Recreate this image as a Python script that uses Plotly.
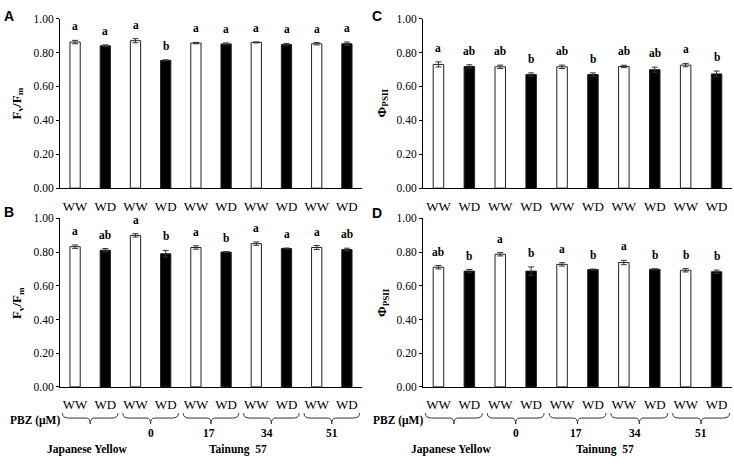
import plotly.graph_objects as go

# ---------------- data ----------------
treatments = ["WW", "WD", "WW", "WD", "WW", "WD", "WW", "WD", "WW", "WD"]
positions = list(range(10))

fvfm_A = [0.862, 0.840, 0.870, 0.754, 0.856, 0.851, 0.860, 0.847, 0.852, 0.852]
fvfm_A_err = [0.010, 0.005, 0.012, 0.003, 0.004, 0.006, 0.003, 0.007, 0.007, 0.010]
fvfm_A_letters = ["a", "a", "a", "b", "a", "a", "a", "a", "a", "a"]

fvfm_B = [0.832, 0.811, 0.899, 0.790, 0.827, 0.800, 0.850, 0.821, 0.827, 0.815]
fvfm_B_err = [0.010, 0.010, 0.010, 0.020, 0.010, 0.003, 0.010, 0.003, 0.012, 0.008]
fvfm_B_letters = ["a", "ab", "a", "b", "a", "b", "a", "a", "a", "ab"]

phi_C = [0.730, 0.718, 0.716, 0.670, 0.716, 0.670, 0.718, 0.699, 0.726, 0.674]
phi_C_err = [0.015, 0.010, 0.010, 0.010, 0.010, 0.010, 0.007, 0.015, 0.010, 0.017]
phi_C_letters = ["a", "ab", "ab", "b", "ab", "b", "ab", "ab", "a", "b"]

phi_D = [0.710, 0.687, 0.787, 0.687, 0.727, 0.696, 0.738, 0.698, 0.692, 0.683]
phi_D_err = [0.010, 0.010, 0.010, 0.025, 0.010, 0.003, 0.013, 0.003, 0.010, 0.010]
phi_D_letters = ["ab", "b", "a", "b", "a", "b", "a", "b", "b", "b"]

y_ticks = [0.0, 0.2, 0.4, 0.6, 0.8, 1.0]
pbz_labels = ["0", "17", "34", "51"]
pbz_label_pos = [2.5, 4.45, 6.35, 8.5]
brace_centers = [0.5, 2.5, 4.5, 6.5, 8.5]
cultivar_labels = ["Japanese Yellow", "Tainung  57"]
cultivar_pos = [0.4, 5.4]

SERIF = "Liberation Serif, Times New Roman, serif"
SANS = "Liberation Sans, Arial, sans-serif"

fig = go.Figure()

panels = [
    # (values, err, letters, xaxis, yaxis, panel letter, ytitle)
    (fvfm_A, fvfm_A_err, fvfm_A_letters, "x", "y", "A", "F<sub>v</sub>/F<sub>m</sub>"),
    (phi_C, phi_C_err, phi_C_letters, "x2", "y2", "C", "Φ<sub>PSII</sub>"),
    (fvfm_B, fvfm_B_err, fvfm_B_letters, "x3", "y3", "B", "F<sub>v</sub>/F<sub>m</sub>"),
    (phi_D, phi_D_err, phi_D_letters, "x4", "y4", "D", "Φ<sub>PSII</sub>"),
]

bar_colors = ["white" if t == "WW" else "black" for t in treatments]

left_dom = [60 / 734, 362 / 734]
right_dom = [423 / 734, 732 / 734]
top_dom = [1 - 187 / 464, 1 - 13 / 464]
bot_dom = [1 - 391 / 464, 1 - 218 / 464]

annotations = []
shapes = []

for vals, errs, letters, xa, ya, plab, ytitle in panels:
    fig.add_trace(go.Bar(
        x=positions, y=vals, xaxis=xa, yaxis=ya, width=0.34,
        marker=dict(color=bar_colors, line=dict(color="#222222", width=1)),
        error_y=dict(type="data", array=errs, color="#333333", thickness=1, width=3),
        showlegend=False, hoverinfo="skip",
    ))
    for p, v, e, L in zip(positions, vals, errs, letters):
        annotations.append(dict(
            x=p, y=v + e + 0.035, xref=xa, yref=ya, text="<b>%s</b>" % L,
            showarrow=False, yanchor="bottom", xanchor="center",
            font=dict(family=SERIF, size=11.5, color="black"),
        ))

axis_common_x = dict(
    range=[-0.5, 9.5], showline=True, linecolor="black", linewidth=1,
    tickvals=positions, ticktext=treatments, ticks="outside", ticklen=6,
    tickcolor="rgba(0,0,0,0)", tickfont=dict(family=SERIF, size=13, color="black"),
    showgrid=False, zeroline=False, fixedrange=True,
)
axis_common_y = dict(
    range=[0, 1.0], showline=True, linecolor="black", linewidth=1,
    tickvals=y_ticks, tickformat=".2f", ticks="outside", ticklen=3,
    tickcolor="black", tickfont=dict(family=SERIF, size=11.5, color="black"),
    showgrid=False, zeroline=False, fixedrange=True,
)

fig.update_layout(
    xaxis=dict(axis_common_x, domain=left_dom, anchor="y"),
    yaxis=dict(axis_common_y, domain=top_dom, anchor="x"),
    xaxis2=dict(axis_common_x, domain=right_dom, anchor="y2"),
    yaxis2=dict(axis_common_y, domain=top_dom, anchor="x2"),
    xaxis3=dict(axis_common_x, domain=left_dom, anchor="y3"),
    yaxis3=dict(axis_common_y, domain=bot_dom, anchor="x3"),
    xaxis4=dict(axis_common_x, domain=right_dom, anchor="y4"),
    yaxis4=dict(axis_common_y, domain=bot_dom, anchor="x4"),
)

# panel letters and y titles
panel_letter_pos = {"A": (9, 10), "B": (9, 211), "C": (377, 10), "D": (377, 213)}
ytitle_pos = {"A": (17, 100), "B": (17, 305), "C": (382, 100), "D": (382, 305)}
for vals, errs, letters, xa, ya, plab, ytitle in panels:
    px, py = panel_letter_pos[plab]
    annotations.append(dict(
        x=px / 734, y=1 - py / 464, xref="paper", yref="paper", text="<b>%s</b>" % plab,
        showarrow=False, xanchor="center", yanchor="middle",
        font=dict(family=SANS, size=14, color="black"),
    ))
    tx, ty = ytitle_pos[plab]
    annotations.append(dict(
        x=tx / 734, y=1 - ty / 464, xref="paper", yref="paper", text="<b>%s</b>" % ytitle,
        showarrow=False, xanchor="center", yanchor="middle", textangle=-90,
        font=dict(family=SERIF, size=13, color="black"),
    ))

# bottom group labels under panels B (x3) and D (x4)
y_brace_top = 1 - 418 / 464
y_brace_line = 1 - 423 / 464
y_brace_tick = 1 - 429 / 464
for xa, pbz_x in (("x3", 35 / 734), ("x4", 398 / 734)):
    for c in brace_centers:
        h = 0.92
        path = (
            f"M {c-h},{y_brace_top} Q {c-h},{y_brace_line} {c-h+0.2},{y_brace_line} "
            f"L {c-0.12},{y_brace_line} Q {c},{y_brace_line} {c},{y_brace_tick} "
            f"Q {c},{y_brace_line} {c+0.12},{y_brace_line} "
            f"L {c+h-0.2},{y_brace_line} Q {c+h},{y_brace_line} {c+h},{y_brace_top}"
        )
        shapes.append(dict(type="path", path=path, xref=xa, yref="paper",
                           line=dict(color="#333333", width=1)))
    annotations.append(dict(
        x=pbz_x, y=1 - 426 / 464, xref="paper", yref="paper", text="<b>PBZ (μM)</b>",
        showarrow=False, xanchor="center", yanchor="middle",
        font=dict(family=SERIF, size=11.5, color="black"),
    ))
    for lab, pos in zip(pbz_labels, pbz_label_pos):
        annotations.append(dict(
            x=pos, y=1 - 438 / 464, xref=xa, yref="paper", text="<b>%s</b>" % lab,
            showarrow=False, xanchor="center", yanchor="middle",
            font=dict(family=SERIF, size=11.5, color="black"),
        ))
    for lab, pos in zip(cultivar_labels, cultivar_pos):
        annotations.append(dict(
            x=pos, y=1 - 455 / 464, xref=xa, yref="paper", text="<b>%s</b>" % lab,
            showarrow=False, xanchor="center", yanchor="middle",
            font=dict(family=SERIF, size=11.5, color="black"),
        ))

fig.update_layout(
    width=734, height=464,
    margin=dict(l=0, r=0, t=0, b=0),
    paper_bgcolor="white", plot_bgcolor="white",
    annotations=annotations, shapes=shapes,
    bargap=0.6, showlegend=False, hovermode=False,
)

fig.write_html("out.html", config={"displayModeBar": False},
               post_script="document.body.style.margin='0px';")
